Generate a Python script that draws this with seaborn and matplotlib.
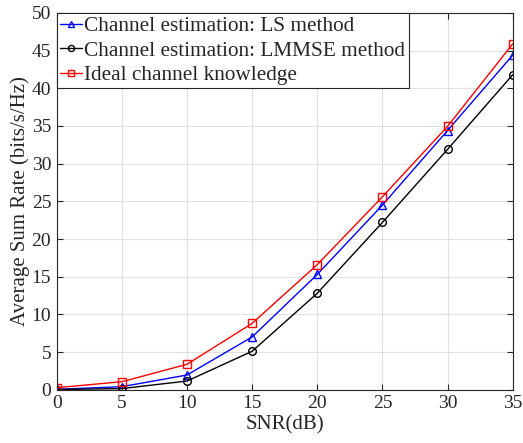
import numpy as np
import pandas as pd
import matplotlib
matplotlib.use("Agg")
import matplotlib.pyplot as plt
import seaborn as sns

snr_db = [0, 5, 10, 15, 20, 25, 30, 35]
rate_ls = [0.05, 0.40, 1.95, 7.0, 15.3, 24.5, 34.4, 44.4]
rate_lmmse = [0.02, 0.15, 1.15, 5.1, 12.8, 22.2, 31.9, 41.8]
rate_ideal = [0.27, 1.06, 3.37, 8.8, 16.6, 25.6, 34.95, 45.9]

labels = ["Channel estimation: LS method",
          "Channel estimation: LMMSE method",
          "Ideal channel knowledge"]

df = pd.DataFrame({
    "SNR": snr_db * 3,
    "Rate": rate_ls + rate_lmmse + rate_ideal,
    "Scheme": [labels[0]] * 8 + [labels[1]] * 8 + [labels[2]] * 8,
})

sns.set_theme(style="whitegrid")
plt.rcParams["font.family"] = ["Liberation Serif", "DejaVu Serif"]
plt.rcParams["mathtext.fontset"] = "stix"

fig = plt.figure(figsize=(5.23, 4.43), dpi=100)
ax = fig.add_axes([0.1084, 0.1203, 0.8719, 0.8504])

palette = {labels[0]: "#0000ff", labels[1]: "#000000", labels[2]: "#ff0000"}
markers = {labels[0]: "^", labels[1]: "o", labels[2]: "s"}

sns.lineplot(data=df, x="SNR", y="Rate", hue="Scheme", style="Scheme",
             palette=palette, markers=markers, dashes=False, ax=ax,
             linewidth=1.0, markersize=5.5, markerfacecolor="none",
             markeredgewidth=1.0, legend=False)
for line, lab in zip(ax.lines, labels):
    line.set_label(lab)
    line.set_markeredgecolor(palette[lab])
    line.set_markerfacecolor("none")

ax.set_xlim(0, 35)
ax.set_ylim(0, 50)
ax.set_xticks(np.arange(0, 36, 5))
ax.set_yticks(np.arange(0, 51, 5))
ax.set_facecolor("white")
ax.grid(True, color="#e0e0e0", linewidth=0.8)
for sp in ax.spines.values():
    sp.set_color("#262626")
    sp.set_linewidth(0.8)
    sp.set_visible(True)
ax.tick_params(axis="both", direction="in", length=4, width=0.8,
               colors="#262626", labelsize=14, top=True, right=True,
               bottom=True, left=True, pad=4)
for t in ax.get_xticklabels() + ax.get_yticklabels():
    t.set_color("#262626")

ax.set_xlabel("SNR(dB)", fontsize=15, color="#262626", labelpad=2)
ax.set_ylabel("Average Sum Rate (bits/s/Hz)", fontsize=15, color="#262626",
              labelpad=1)

leg = ax.legend(loc="upper left", fontsize=15.3, frameon=True, fancybox=False,
                edgecolor="#262626", framealpha=1, handlelength=1.05,
                handletextpad=0.1, borderpad=0.15, labelspacing=0.22,
                borderaxespad=0, markerscale=0.8)
leg.get_frame().set_linewidth(0.8)

fig.savefig("out.png", dpi=100, facecolor="white")
